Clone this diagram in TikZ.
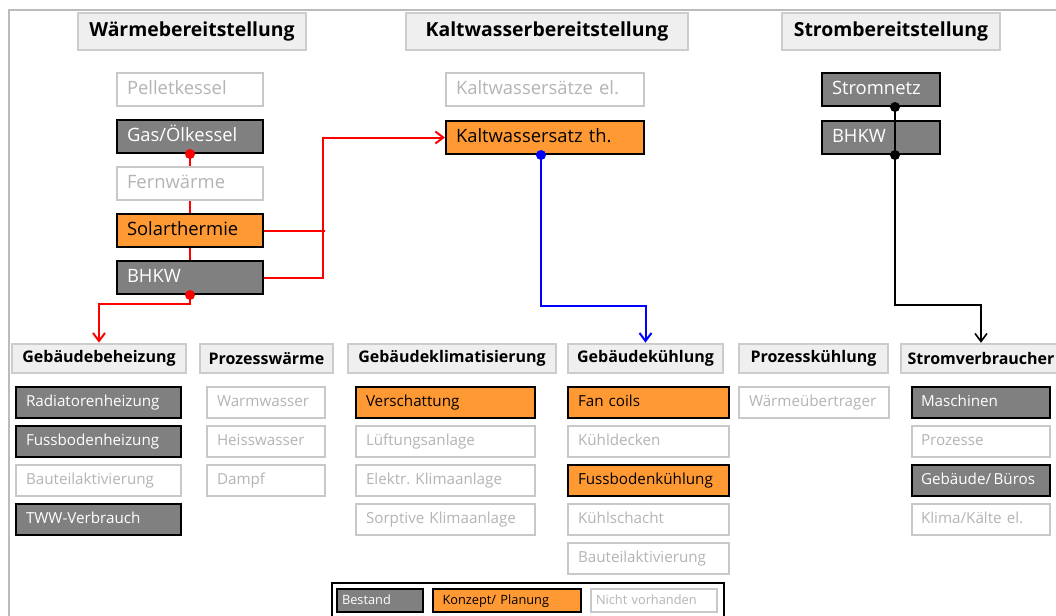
\documentclass[tikz,border=0pt]{standalone}
\usepackage{fontspec}
\setmainfont{Open Sans}
\frenchspacing
\usetikzlibrary{positioning, arrows.meta}

\definecolor{bestandgrau}{HTML}{808080}
\definecolor{planorange}{HTML}{FF9933}
\definecolor{leergrau}{HTML}{C8C8C8}
\definecolor{leertext}{HTML}{B4B4B4}
\definecolor{kopfgrau}{HTML}{EFEFEF}
\definecolor{kopfrand}{HTML}{CCCCCC}
\definecolor{rahmengrau}{HTML}{BBBBBB}

\tikzstyle{titel} = [rectangle, draw=kopfrand, fill=kopfgrau, line width=1.2pt, minimum height=18.5pt, font=\fontsize{9.7}{11}\selectfont\bfseries]
\tikzstyle{kopf} = [rectangle, draw=kopfrand, fill=kopfgrau, line width=1.2pt, minimum height=14.5pt, font=\fontsize{8}{10}\selectfont\bfseries]
\tikzset{box/.style={rectangle, line width=1pt, text width=#1, inner xsep=5pt, inner ysep=0pt, align=left, minimum height=16.5pt, text height=7pt, text depth=2pt, font=\fontsize{9.2}{11}\selectfont}}
\tikzset{klein/.style={box=#1, minimum height=15.5pt, text height=6pt, font=\fontsize{7.6}{9}\selectfont}}
\tikzset{mini/.style={box=#1, minimum height=11.5pt, inner xsep=2.5pt, text height=5pt, text depth=1.5pt, font=\fontsize{6.4}{7}\selectfont}}
\tikzstyle{bestand} = [draw=black, fill=bestandgrau, text=white]
\tikzstyle{planung} = [draw=black, fill=planorange, text=black]
\tikzstyle{fehlt} = [draw=leergrau, fill=white, text=leertext]
\tikzstyle{arrow} = [line width=1pt, -{Straight Barb[length=4pt,width=6pt]}]

\begin{document}
\begin{tikzpicture}[x=0.5pt, y=-0.5pt, node distance=23.5pt, on grid]
	\useasboundingbox (0,0) rectangle (1056,616);
	\clip (0,0) rectangle (1056,616);
	\draw[rahmengrau, line width=1pt] (9,660) |- (1100,10);

	% Bereitstellung
	\node (tWaerme) [titel, minimum width=114pt] at (192,31.5) {Wärmebereitstellung};
	\node (tKalt) [titel, minimum width=141pt] at (547,31.5) {Kaltwasserbereitstellung};
	\node (tStrom) [titel, minimum width=109pt] at (891,31.5) {Strombereitstellung};

	\node (pellet) [box=63pt, fehlt] at (190,89.5) {Pelletkessel};
	\node (gas) [box=63pt, bestand, below=of pellet] {Gas/Ölkessel};
	\node (fern) [box=63pt, fehlt, below=of gas] {Fernwärme};
	\node (solar) [box=63pt, planung, below=of fern] {Solarthermie};
	\node (bhkwW) [box=63pt, bestand, below=of solar] {BHKW};

	\node (kwEl) [box=89pt, fehlt] at (545,89.5) {Kaltwassersätze el.};
	\node (kwTh) [box=89pt, planung, below=24pt of kwEl] {Kaltwassersatz th.};

	\node (netz) [box=49pt, bestand] at (881,89.5) {Stromnetz};
	\node (bhkwS) [box=49pt, bestand, below=24pt of netz] {BHKW};

	% Verbraucher
	\node (kBeheiz) [kopf, minimum width=87pt] at (99,358.5) {Gebäudebeheizung};
	\node (kProzW) [kopf, minimum width=66.5pt] at (266.5,358.5) {Prozesswärme};
	\node (kKlima) [kopf, minimum width=104pt] at (452,358.5) {Gebäudeklimatisierung};
	\node (kKuehl) [kopf, minimum width=77.5pt] at (645.5,358.5) {Gebäudekühlung};
	\node (kProzK) [kopf, minimum width=74.5pt] at (813.5,358.5) {Prozesskühlung};
	\node (kVerbr) [kopf, minimum width=80pt] at (981,358.5) {Stromverbraucher};

	\node (radiator) [klein=72.5pt, bestand] at (98.5,402.5) {Radiatorenheizung};
	\node (fbHeiz) [klein=72.5pt, bestand, below=19.5pt of radiator] {Fussbodenheizung};
	\node (bauteilH) [klein=72.5pt, fehlt, below=19.5pt of fbHeiz] {Bauteilaktivierung};
	\node (tww) [klein=72.5pt, bestand, below=19.5pt of bauteilH] {TWW-Verbrauch};

	\node (warm) [klein=49pt, fehlt] at (266,402.5) {Warmwasser};
	\node (heiss) [klein=49pt, fehlt, below=19.5pt of warm] {Heisswasser};
	\node (dampf) [klein=49pt, fehlt, below=19.5pt of heiss] {Dampf};

	\node (schatten) [klein=79.5pt, planung] at (445.5,402.5) {Verschattung};
	\node (lueftung) [klein=79.5pt, fehlt, below=19.5pt of schatten] {Lüftungsanlage};
	\node (elKlima) [klein=79.5pt, fehlt, below=19.5pt of lueftung] {Elektr. Klimaanlage};
	\node (sorptiv) [klein=79.5pt, fehlt, below=19.5pt of elKlima] {Sorptive Klimaanlage};

	\node (fancoil) [klein=70.5pt, planung] at (648.5,402.5) {Fan coils};
	\node (decken) [klein=70.5pt, fehlt, below=19.5pt of fancoil] {Kühldecken};
	\node (fbKuehl) [klein=70.5pt, planung, below=19.5pt of decken] {Fussbodenkühlung};
	\node (schacht) [klein=70.5pt, fehlt, below=19.5pt of fbKuehl] {Kühlschacht};
	\node (bauteilK) [klein=70.5pt, fehlt, below=19.5pt of schacht] {Bauteilaktivierung};

	\node (tauscher) [klein=65pt, fehlt] at (814,402.5) {Wärmeübertrager};

	\node (maschinen) [klein=60pt, bestand, inner xsep=4.5pt] at (981,402.5) {Maschinen};
	\node (prozesse) [klein=60pt, fehlt, inner xsep=4.5pt, below=19.5pt of maschinen] {Prozesse};
	\node (bueros) [klein=60pt, bestand, inner xsep=4.5pt, below=19.5pt of prozesse] {Gebäude/\,Büros};
	\node (klimaEl) [klein=60pt, fehlt, inner xsep=4.5pt, below=19.5pt of bueros] {Klima/Kälte el.};

	% Legende
	\node (legende) [rectangle, draw=black, line width=1pt, minimum width=196pt, minimum height=21pt] at (528,604) {};
	\node (lBestand) [mini=38pt, bestand] at (380,600.5) {Bestand};
	\node (lPlanung) [mini=64pt, planung, inner xsep=5pt] at (506.5,600.5) {Konzept/ Planung};
	\node (lFehlt) [mini=58pt, fehlt] at (654,600.5) {Nicht vorhanden};

	% Waerme
	\draw [red, line width=1pt] (gas.south) -- (fern.north);
	\draw [red, line width=1pt] (fern.south) -- (solar.north);
	\draw [red, line width=1pt] (solar.south) -- (bhkwW.north);
	\fill [red] (gas.south) circle (2.5pt);
	\draw [red, line width=1pt] (solar.east) -- ++(61,0);
	\draw [arrow, red] (bhkwW.east) -- ++(59,0) |- (kwTh.west);
	\draw [arrow, red] (bhkwW.south) -- ++(0,9) -| (kBeheiz.north);
	\fill [red] (bhkwW.south) circle (2.5pt);

	% Kaelte
	\draw [arrow, blue] ([xshift=-2pt]kwTh.south) -- ++(0,151) -| (kKuehl.north);
	\fill [blue] ([xshift=-2pt]kwTh.south) circle (2.5pt);

	% Strom
	\draw [line width=0.8pt] ([xshift=7pt]netz.south) -- ([xshift=7pt]bhkwS.south);
	\draw [arrow, line width=0.8pt] ([xshift=7pt]bhkwS.south) -- ++(0,150) -| (kVerbr.north);
	\fill ([xshift=7pt]netz.south) circle (2.5pt);
	\fill ([xshift=7pt]bhkwS.south) circle (2.5pt);
\end{tikzpicture}
\end{document}
